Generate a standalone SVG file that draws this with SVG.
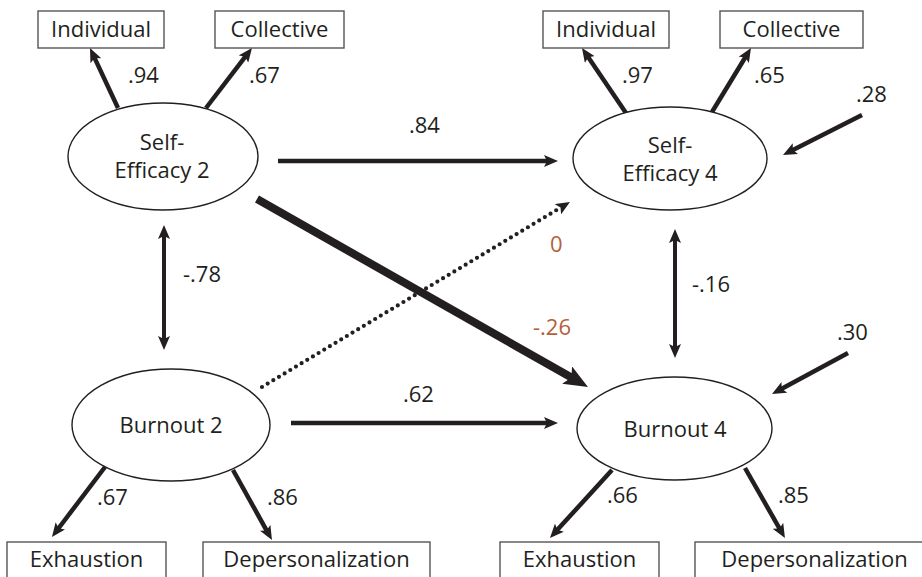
<svg xmlns="http://www.w3.org/2000/svg" width="922" height="577" viewBox="0 0 922 577">
  <style>
    text { font-family: "Open Sans", "Noto Sans", "Liberation Sans", sans-serif; font-size: 22px; fill: #231f20; }
    .mid { text-anchor: middle; }
    .hi { fill: #b5603b; }
    .box { fill: #ffffff; stroke: #555555; stroke-width: 1.4; }
    .lat { fill: #ffffff; stroke: #231f20; stroke-width: 1.4; }
    .path { fill: none; stroke: #231f20; stroke-width: 4.5; }
    .thick { fill: none; stroke: #231f20; stroke-width: 8; }
    .dot { fill: none; stroke: #231f20; stroke-width: 4.2; stroke-linecap: round; stroke-dasharray: 0 6.6; }
  </style>
  <defs>
    <marker id="arr" viewBox="0 0 14 12" refX="4" refY="6" markerWidth="14" markerHeight="12" markerUnits="userSpaceOnUse" orient="auto-start-reverse">
      <path d="M0,0 L14,6 L0,12 L3,6 Z" fill="#231f20"/>
    </marker>
    <marker id="arrBig" viewBox="0 0 24 20" refX="7" refY="10" markerWidth="24" markerHeight="20" markerUnits="userSpaceOnUse" orient="auto">
      <path d="M0,0 L24,10 L0,20 L5,10 Z" fill="#231f20"/>
    </marker>
  </defs>

  <!-- structural and measurement paths -->
  <g id="connectors">
    <line class="path" x1="118" y1="108" x2="94.2" y2="57.1" marker-end="url(#arr)"/>
    <line class="path" x1="206" y1="108" x2="245.9" y2="55.9" marker-end="url(#arr)"/>
    <line class="path" x1="278" y1="161" x2="548" y2="161" marker-end="url(#arr)"/>
    <line class="thick" x1="257" y1="199" x2="573.2" y2="378.6" marker-end="url(#arrBig)"/>
    <line class="path" style="stroke-width:4" x1="164" y1="235" x2="164" y2="340" marker-start="url(#arr)" marker-end="url(#arr)"/>
    <line class="dot" x1="262" y1="387" x2="561.4" y2="207.1"/>
    <line x1="555" y1="211" x2="561.4" y2="207.1" stroke="none" marker-end="url(#arr)"/>
    <line class="path" x1="291" y1="423" x2="548" y2="423" marker-end="url(#arr)"/>
    <line class="path" style="stroke-width:4" x1="675" y1="239" x2="675" y2="348" marker-start="url(#arr)" marker-end="url(#arr)"/>
    <line class="path" x1="862" y1="115" x2="791.9" y2="150.5" marker-end="url(#arr)"/>
    <line class="path" x1="626" y1="113" x2="587.6" y2="56.3" marker-end="url(#arr)"/>
    <line class="path" x1="712" y1="112" x2="745.8" y2="56.5" marker-end="url(#arr)"/>
    <line class="path" x1="848" y1="353" x2="780.8" y2="389.3" marker-end="url(#arr)"/>
    <line class="path" x1="105" y1="467" x2="58.0" y2="529.0" marker-end="url(#arr)"/>
    <line class="path" x1="233" y1="470" x2="267.1" y2="531.3" marker-end="url(#arr)"/>
    <line class="path" x1="612" y1="470" x2="556.7" y2="530.6" marker-end="url(#arr)"/>
    <line class="path" x1="745" y1="468" x2="780.0" y2="529.3" marker-end="url(#arr)"/>
  </g>

  <!-- coefficients -->
  <g id="labels">
    <text x="128" y="83">.94</text>
    <text x="249" y="83">.67</text>
    <text x="409" y="133">.84</text>
    <text x="183" y="282">-.78</text>
    <text x="622" y="83">.97</text>
    <text x="754" y="83">.65</text>
    <text x="856" y="102">.28</text>
    <text class="hi" x="550" y="252">0</text>
    <text x="692" y="292">-.16</text>
    <text class="hi" x="533" y="335">-.26</text>
    <text x="403" y="402">.62</text>
    <text x="837" y="340">.30</text>
    <text x="97" y="505">.67</text>
    <text x="267" y="505">.86</text>
    <text x="607" y="503">.66</text>
    <text x="778" y="503">.85</text>
  </g>

  <!-- indicators, time 2 -->
  <g id="se2-individual"><rect class="box" x="38" y="11" width="126" height="37"/><text class="mid" x="101" y="37">Individual</text></g>
  <g id="se2-collective"><rect class="box" x="215" y="11" width="129" height="37"/><text class="mid" x="279.5" y="37">Collective</text></g>
  <g id="b2-exhaustion"><rect class="box" x="7" y="542" width="159" height="40"/><text class="mid" x="86.5" y="567">Exhaustion</text></g>
  <g id="b2-depersonalization"><rect class="box" x="203" y="542" width="227" height="40"/><text class="mid" x="316.5" y="567">Depersonalization</text></g>

  <!-- indicators, time 4 -->
  <g id="se4-individual"><rect class="box" x="543" y="11" width="126" height="37"/><text class="mid" x="606" y="37">Individual</text></g>
  <g id="se4-collective"><rect class="box" x="720" y="11" width="143" height="37"/><text class="mid" x="791.5" y="37">Collective</text></g>
  <g id="b4-exhaustion"><rect class="box" x="500" y="542" width="159" height="40"/><text class="mid" x="579.5" y="567">Exhaustion</text></g>
  <g id="b4-depersonalization"><rect class="box" x="695" y="542" width="232" height="40"/><text class="mid" x="814.5" y="567">Depersonalization</text></g>

  <!-- latent factors -->
  <g id="self-efficacy-2">
    <ellipse class="lat" cx="163" cy="156.5" rx="95" ry="53.5"/>
    <text class="mid" x="162" y="150">Self-</text>
    <text class="mid" x="162" y="178">Efficacy 2</text>
  </g>
  <g id="self-efficacy-4">
    <ellipse class="lat" cx="670" cy="158.5" rx="97" ry="51.5"/>
    <text class="mid" x="670" y="153">Self-</text>
    <text class="mid" x="670" y="181">Efficacy 4</text>
  </g>
  <g id="burnout-2">
    <ellipse class="lat" cx="171" cy="425" rx="99" ry="56"/>
    <text class="mid" x="171" y="433">Burnout 2</text>
  </g>
  <g id="burnout-4">
    <ellipse class="lat" cx="674.5" cy="428.5" rx="97.5" ry="51.5"/>
    <text class="mid" x="675" y="437">Burnout 4</text>
  </g>
</svg>
